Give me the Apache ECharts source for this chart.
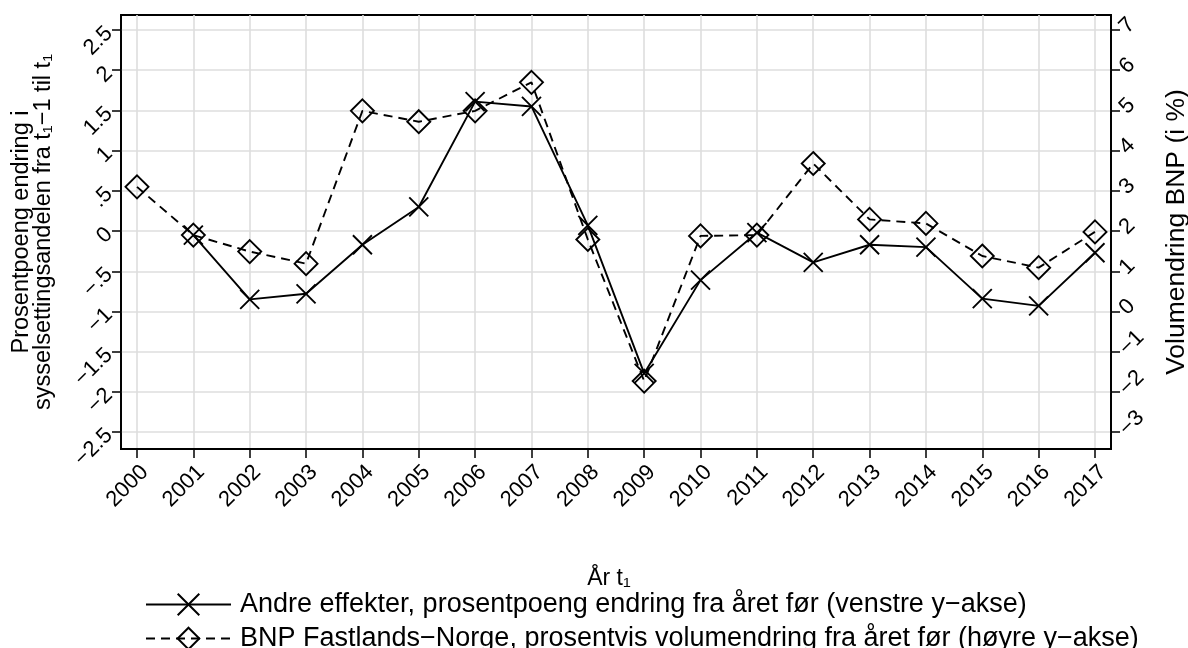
<!DOCTYPE html>
<html>
<head>
<meta charset="utf-8">
<script src="https://cdn.jsdelivr.net/npm/echarts@6/dist/echarts.min.js"></script>
<style>
html,body{margin:0;padding:0;background:#fff;}
#c{width:1188px;height:648px;}
</style>
</head>
<body>
<div id="c"></div>
<script>
const years = [2000,2001,2002,2003,2004,2005,2006,2007,2008,2009,2010,2011,2012,2013,2014,2015,2016,2017];
const andreEffekter = [null,-0.05,-0.85,-0.78,-0.17,0.30,1.61,1.55,0.07,-1.77,-0.61,-0.02,-0.39,-0.17,-0.20,-0.84,-0.93,-0.27];
const bnpFastland = [3.10,1.90,1.49,1.19,4.99,4.72,4.99,5.70,1.79,-1.73,1.88,1.90,3.68,2.29,2.19,1.38,1.09,1.98];
const leftTicks = [-2.5,-2,-1.5,-1,-0.5,0,0.5,1,1.5,2,2.5];
const rightTicks = [-3,-2,-1,0,1,2,3,4,5,6,7];
const seriesNames = [
  'Andre effekter, prosentpoeng endring fra året før (venstre y\u2212akse)',
  'BNP Fastlands\u2212Norge, prosentvis volumendring fra året før (høyre y\u2212akse)'
];

const FONT = 'Liberation Sans';
function fmt(v){
  let s = String(Math.abs(v));
  if (s.startsWith('0.')) s = s.slice(1);
  return (v < 0 ? '\u2212' : '') + s;
}
const gridLine = {show:true, lineStyle:{color:'#dedede', width:1.6}};
const axisLine = {show:true, onZero:false, lineStyle:{color:'#000', width:1.8}};
const tick = (vals) => ({show:true, length:9, customValues:vals, lineStyle:{color:'#000', width:1.5}});
const xSym = 'path://M0,0L10,10M10,0L0,10';
const legendBase = {
  orient:'horizontal', left:140, itemWidth:85, itemHeight:27,
  textStyle:{color:'#000', fontSize:27, fontFamily:FONT, padding:[0,0,0,4]}
};

const chart = echarts.init(document.getElementById('c'), null, {renderer:'canvas'});
chart.setOption({
  animation:false,
  backgroundColor:'#fff',
  textStyle:{fontFamily:FONT},
  grid:{left:121, right:77, top:15, bottom:199, containLabel:false, outerBoundsMode:'none',
        show:true, borderColor:'#000', borderWidth:1.8, backgroundColor:'transparent'},
  xAxis:{
    type:'value', min:1999.716, max:2017.284,
    axisLine:axisLine, axisTick:tick(years), splitLine:gridLine,
    axisLabel:{customValues:years, rotate:45, margin:12, verticalAlign:'top', color:'#000', fontSize:22, fontFamily:FONT, formatter:v=>String(v)},
    name:'År t\u2081', nameLocation:'middle', nameGap:118,
    nameTextStyle:{color:'#000', fontSize:23, fontFamily:FONT, padding:[0,14,0,0]}
  },
  yAxis:[{
    type:'value', min:-2.71, max:2.687, position:'left',
    axisLine:axisLine, axisTick:tick(leftTicks), splitLine:gridLine,
    axisLabel:{customValues:leftTicks, rotate:45, margin:12, color:'#000', fontSize:22, fontFamily:FONT, formatter:fmt},
    name:'Prosentpoeng endring i\nsysselsettingsandelen fra t\u2081\u22121 til t\u2081',
    nameLocation:'middle', nameRotate:90, nameGap:66,
    nameTextStyle:{color:'#000', fontSize:23.5, lineHeight:22.5, fontFamily:FONT}
  },{
    type:'value', min:-3.42, max:7.374, position:'right',
    axisLine:axisLine, axisTick:tick(rightTicks), splitLine:{show:false},
    axisLabel:{customValues:rightTicks, rotate:45, margin:12, color:'#000', fontSize:22, fontFamily:FONT, formatter:fmt},
    name:'Volumendring BNP (i %)', nameLocation:'middle', nameRotate:90, nameGap:52,
    nameTextStyle:{color:'#000', fontSize:26.5, fontFamily:FONT}
  }],
  legend:[
    Object.assign({}, legendBase, {top:586, data:[seriesNames[0]]}),
    Object.assign({}, legendBase, {top:620, data:[seriesNames[1]]})
  ],
  series:[{
    name:seriesNames[0], type:'line', yAxisIndex:0,
    data:years.map((y,i)=>[y, andreEffekter[i]]),
    symbol:xSym, symbolSize:19, showSymbol:true, connectNulls:false,
    lineStyle:{color:'#000', width:1.9, type:'solid'},
    itemStyle:{color:'rgba(0,0,0,0)', borderColor:'#000', borderWidth:1.9},
    emphasis:{disabled:true}
  },{
    name:seriesNames[1], type:'line', yAxisIndex:1,
    data:years.map((y,i)=>[y, bnpFastland[i]]),
    symbol:'diamond', symbolSize:[23,23], showSymbol:true,
    lineStyle:{color:'#000', width:1.9, type:[9,6]},
    itemStyle:{color:'rgba(0,0,0,0)', borderColor:'#000', borderWidth:1.9},
    emphasis:{disabled:true}
  }]
});
</script>
</body>
</html>
